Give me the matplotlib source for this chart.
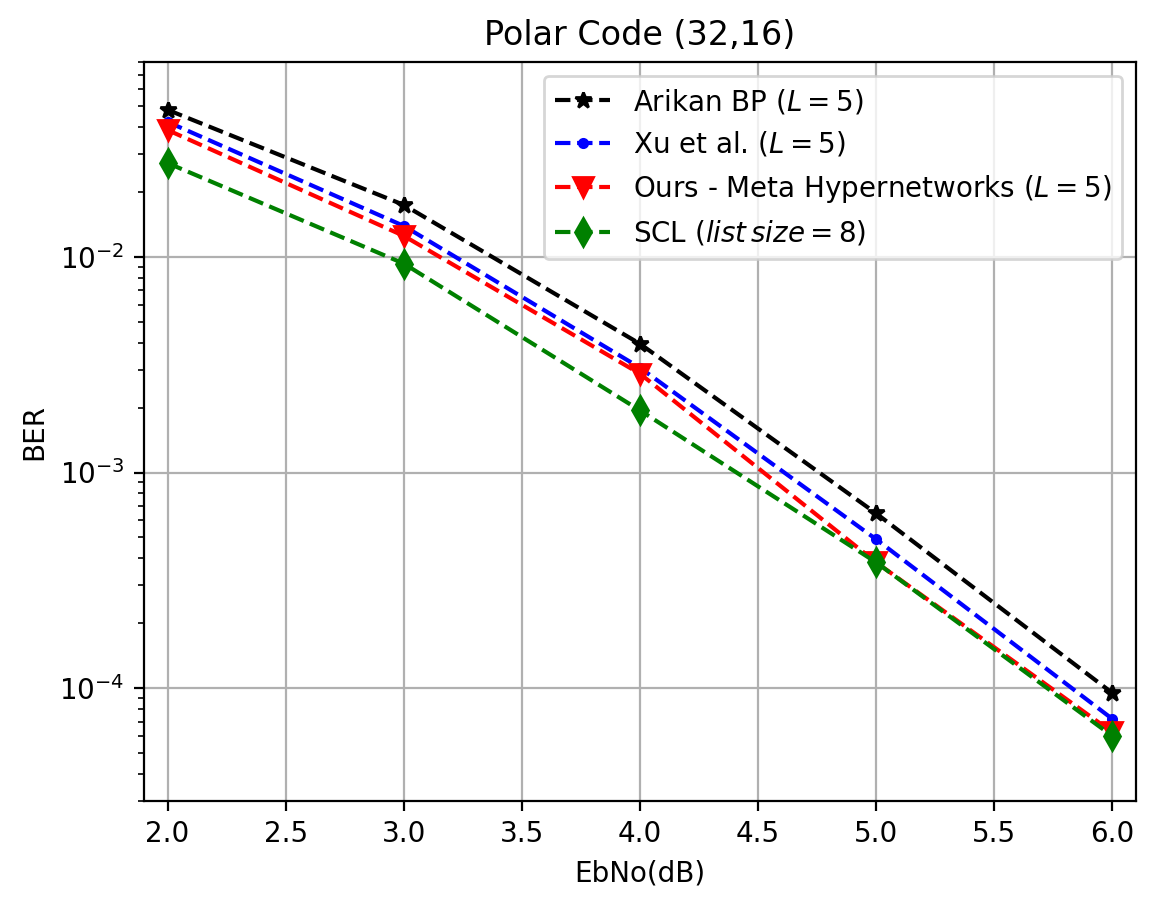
import numpy as np
import matplotlib
matplotlib.use("Agg")
import matplotlib.pyplot as plt

# Eb/No points (dB)
ebno = [2.0, 3.0, 4.0, 5.0, 6.0]

# BER values
ber_arikan = [0.048, 0.0174, 0.00395, 0.000646, 9.5e-5]
ber_xu = [0.0422, 0.0139, 0.00306, 0.00049, 7.2e-5]
ber_ours = [0.0387, 0.0125, 0.00287, 0.000383, 6.25e-5]
ber_scl = [0.0272, 0.0093, 0.00194, 0.000383, 6.0e-5]

fig = plt.figure(figsize=(1159 / 200, 908 / 200), dpi=200)
ax = fig.add_axes([144 / 1159, 107 / 908, 992 / 1159, 739 / 908])

ax.plot(ebno, ber_arikan, 'k*--', label=r'Arikan BP ($L=5$)')
ax.plot(ebno, ber_xu, 'b.--', label=r'Xu et al. ($L=5$)')
ax.plot(ebno, ber_ours, 'rv--', markersize=7, label=r'Ours - Meta Hypernetworks ($L=5$)')
ax.plot(ebno, ber_scl, 'gd--', markersize=7, label=r'SCL ($list\,size=8$)')

ax.set_yscale('log')
ax.set_xlim(1.9, 6.1)
ax.set_ylim(3e-5, 8e-2)
ax.grid(True)
ax.set_xlabel('EbNo(dB)')
ax.set_ylabel('BER')
ax.set_title('Polar Code (32,16)')
ax.legend(loc='upper right')

fig.savefig('out.png', dpi=200)
